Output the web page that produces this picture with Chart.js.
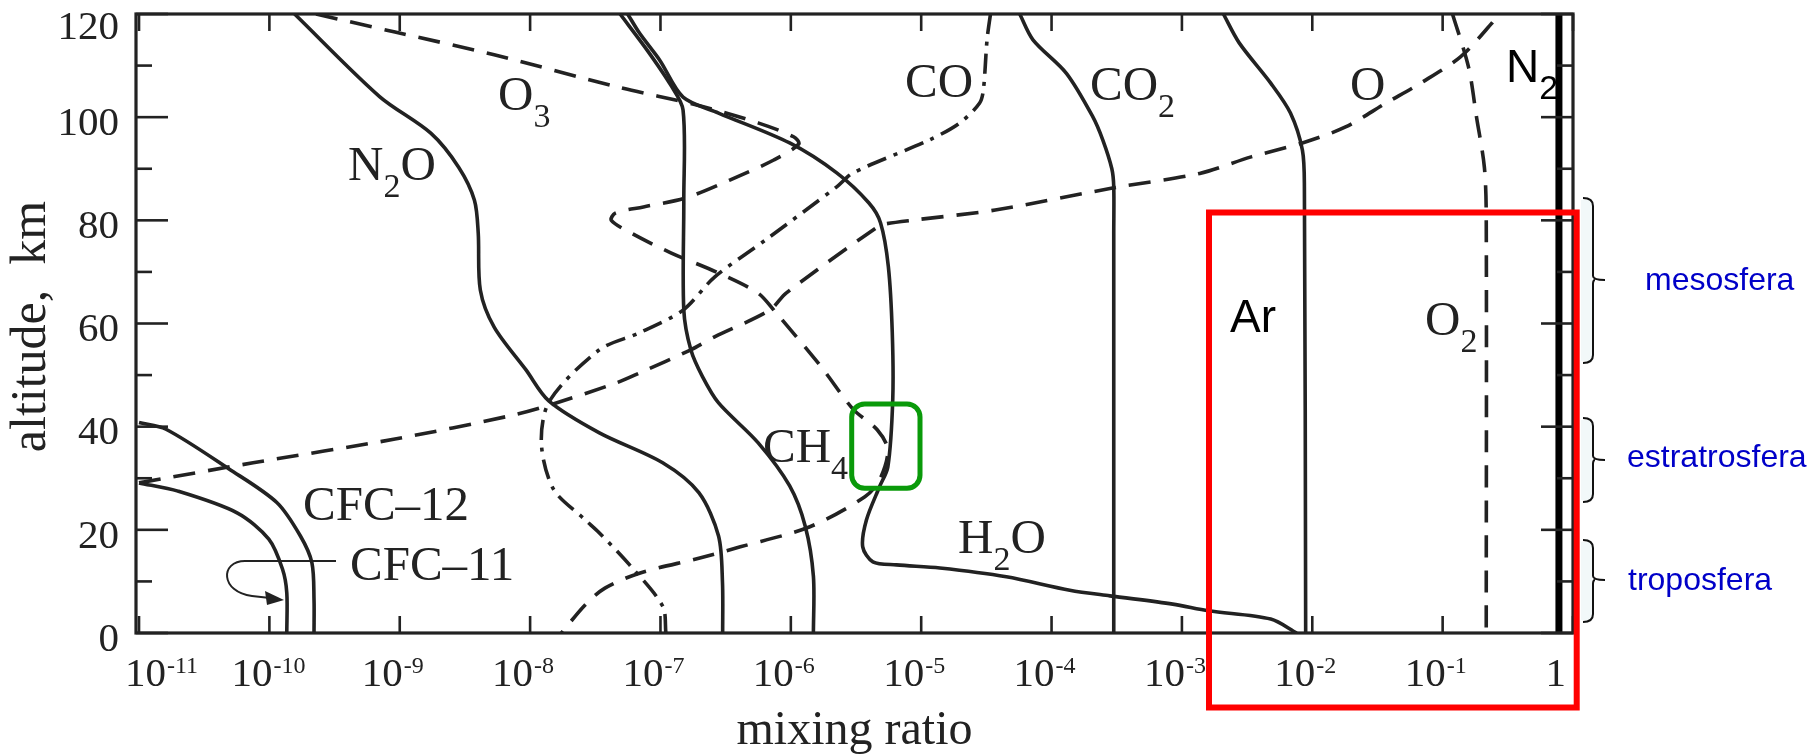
<!DOCTYPE html>
<html lang="it">
<head>
<meta charset="UTF-8">
<title>Mixing ratio profiles</title>
<script src="https://cdn.jsdelivr.net/npm/chart.js"></script>
<style>
  body { margin: 0; background: #fff; }
  canvas { display: block; }
</style>
</head>
<body>
<canvas id="grafico" width="1818" height="756"></canvas>
<script>
// altitude (km) / mixing ratio pairs
const n2oAlt = [120, 104, 96.9, 90.3, 83.9, 77.5, 66.5, 59.3, 51, 45, 38.8, 33, 27.2, 18.8, 9.8, 0];
const n2oMix = [1.56e-10, 7.0e-10, 1.73e-9, 2.83e-9, 3.74e-9, 4.0e-9, 4.15e-9, 5.3e-9, 9.3e-9, 1.39e-8, 3.4e-8, 1.04e-7, 1.97e-7, 2.79e-7, 2.99e-7, 3.0e-7];

const ch4Alt = [120, 113, 106.2, 101.4, 83.9, 62.6, 54.9, 49.7, 44.6, 36.9, 28.5, 20.7, 11, 0];
const ch4Mix = [4.9e-8, 7.9e-8, 1.2e-7, 1.49e-7, 1.51e-7, 1.51e-7, 1.71e-7, 2.1e-7, 2.79e-7, 5.6e-7, 9.8e-7, 1.29e-6, 1.49e-6, 1.49e-6];

const h2oAlt = [120, 116.3, 111, 103.9, 100.8, 95, 89.2, 83.4, 79.5, 71, 58.2, 45.2, 32.2, 28.4, 21.9, 16.7, 13.8, 13.2, 12.6, 10.9, 8.3, 7.2, 5.6, 4.3, 2.7, 0];
const h2oMix = [5.6e-8, 6.9e-8, 9.9e-8, 1.49e-7, 2.79e-7, 9.8e-7, 2.25e-6, 3.96e-6, 4.88e-6, 5.6e-6, 6.0e-6, 6.05e-6, 5.55e-6, 4.8e-6, 3.8e-6, 3.56e-6, 4.26e-6, 6.46e-6, 1.39e-5, 4.5e-5, 1.38e-4, 2.8e-4, 8.5e-4, 1.6e-3, 4.8e-3, 7.6e-3];

const co2Alt = [120, 115, 108.5, 100.1, 95.6, 90, 86.5, 77.5, 0];
const co2Mix = [5.7e-5, 7.2e-5, 1.3e-4, 2.07e-4, 2.47e-4, 2.9e-4, 3.0e-4, 3.0e-4, 3.0e-4];

const coAlt = [120, 115, 105.3, 102.7, 98.9, 95.6, 89.2, 86.5, 76.2, 69, 62.6, 58.2, 54.9, 45, 36.8, 27.9, 22.1, 19.4, 13.2, 5.2, 0];
const coMix = [3.4e-5, 3.2e-5, 3.0e-5, 2.8e-5, 1.98e-5, 1.16e-5, 3.0e-6, 2.25e-6, 6.4e-7, 2.6e-7, 1.49e-7, 6.9e-8, 3.4e-8, 1.41e-8, 1.22e-8, 1.51e-8, 2.6e-8, 3.4e-8, 5.8e-8, 1.04e-7, 1.1e-7];

const o3Alt = [120, 116.5, 112.1, 105.9, 102.2, 98.9, 96.2, 94.8, 91.7, 87.8, 84.3, 82.6, 81.4, 80, 77.5, 73.7, 69.8, 65.9, 62.6, 51.6, 43.4, 39.4, 35.5, 29.7, 26.4, 20.6, 16.7, 14.5, 11.6, 8.7, 5.4, 0];
const o3Mix = [2.28e-10, 9.2e-10, 5.3e-9, 4.6e-8, 2.0e-7, 5.6e-7, 1.05e-6, 1.15e-6, 7.4e-7, 3.4e-7, 1.54e-7, 7.4e-8, 4.5e-8, 4.2e-8, 6.0e-8, 1.2e-7, 2.79e-7, 5.6e-7, 7.4e-7, 1.71e-6, 3.0e-6, 4.6e-6, 5.55e-6, 4.8e-6, 3.7e-6, 1.4e-6, 4.1e-7, 1.97e-7, 6.9e-8, 3.75e-8, 2.63e-8, 1.74e-8];

const oAlt = [29.1, 33, 37.6, 42.1, 44.4, 48.5, 50.4, 54.9, 57.4, 62.6, 65.9, 78.7, 79.3, 80.1, 82, 86.3, 89.1, 92.3, 95, 98.1, 102.7, 106.6, 111.7, 118.3, 119.6];
const oMix = [1e-11, 7.5e-11, 9.2e-10, 7.0e-9, 1.5e-8, 4.6e-8, 6.9e-8, 1.71e-7, 2.6e-7, 6.9e-7, 9.2e-7, 4.6e-6, 5.3e-6, 9.1e-6, 3.7e-5, 3.0e-4, 1.37e-3, 3.4e-3, 8.4e-3, 0.018, 0.0366, 0.0678, 0.137, 0.24, 0.26];

const o2Alt = [120, 109.7, 100, 90.3, 80.7, 0];
const o2Mix = [0.119, 0.158, 0.182, 0.209, 0.216, 0.216];

const arAlt = [120, 114.4, 106.6, 100.8, 93.6, 86.5, 0];
const arMix = [2.08e-3, 2.75e-3, 4.8e-3, 6.8e-3, 8.4e-3, 8.7e-3, 8.9e-3];

const n2Alt = [0, 120];
const n2Mix = [0.78, 0.78];

const cfc12Alt = [40.8, 39.5, 31.8, 25.3, 18.8, 13.6, 6.4, 0];
const cfc12Mix = [1e-11, 1.61e-11, 4.9e-11, 1.14e-10, 1.73e-10, 2.12e-10, 2.2e-10, 2.2e-10];

const cfc11Alt = [29.1, 27.5, 23.3, 18.2, 12.4, 7.8, 0];
const cfc11Mix = [1e-11, 1.99e-11, 5.65e-11, 9.9e-11, 1.26e-10, 1.36e-10, 1.36e-10];

const xTickExp = [-11, -10, -9, -8, -7, -6, -5, -4, -3, -2, -1, 0];
const yTicks = [0, 10, 20, 30, 40, 50, 60, 70, 80, 90, 100, 110, 120];

const ink = '#222';
const serif = '"Liberation Serif", "Times New Roman", serif';
const sans = '"Liberation Sans", Arial, sans-serif';
const dashed = [22, 13];
const dashDot = [20, 8, 4, 8];

function punti(mix, alt) {
    return mix.map((v, i) => ({ x: v, y: alt[i] }));
}

function serie(mix, alt, dash, width, color) {
    return {
        data: punti(mix, alt),
        borderColor: color || ink,
        borderWidth: width || 3.6,
        borderDash: dash || [],
        showLine: true,
        pointRadius: 0,
        tension: 0.3,
        fill: false
    };
}

// chemical label: alternating main text / subscript
function chem(ctx, parts, x, y, family, big, small) {
    let cx = x;
    parts.forEach((p, i) => {
        const sub = i % 2 === 1;
        ctx.font = (sub ? small : big) + 'px ' + family;
        ctx.fillText(p, cx, sub ? y + 17 : y);
        cx += ctx.measureText(p).width;
    });
}

function seg(ctx, x1, y1, x2, y2) {
    ctx.beginPath();
    ctx.moveTo(x1, y1);
    ctx.lineTo(x2, y2);
    ctx.stroke();
}

function brace(ctx, x, top, bottom, mid) {
    ctx.fillStyle = '#f2f8f9';
    ctx.fillRect(x - 2, top + 2, 11, bottom - top - 4);
    ctx.beginPath();
    ctx.moveTo(x, top);
    ctx.quadraticCurveTo(x + 10, top, x + 10, top + 8);
    ctx.lineTo(x + 10, mid - 4);
    ctx.quadraticCurveTo(x + 10, mid, x + 22, mid);
    ctx.moveTo(x + 10, mid + 4);
    ctx.quadraticCurveTo(x + 10, mid, x + 12, mid);
    ctx.moveTo(x + 10, mid + 4);
    ctx.lineTo(x + 10, bottom - 8);
    ctx.quadraticCurveTo(x + 10, bottom, x, bottom);
    ctx.stroke();
}

const cornice = {
    id: 'cornice',
    afterDatasetsDraw(chart) {
        const { ctx, chartArea: a, scales: { x, y } } = chart;
        ctx.save();
        ctx.strokeStyle = ink;
        ctx.fillStyle = ink;
        ctx.lineWidth = 3.2;
        ctx.strokeRect(a.left, a.top, a.right - a.left, a.bottom - a.top);

        ctx.lineWidth = 2.6;
        yTicks.forEach(v => {
            const py = y.getPixelForValue(v);
            const len = v % 20 === 0 ? 32 : 16;
            seg(ctx, a.left, py, a.left + len, py);
            seg(ctx, a.right, py, a.right - len, py);
        });
        xTickExp.forEach(e => {
            const px = x.getPixelForValue(Math.pow(10, e));
            seg(ctx, px, a.bottom, px, a.bottom - 17);
            seg(ctx, px, a.top, px, a.top + 17);
        });

        // y tick labels
        ctx.font = '41px ' + serif;
        ctx.textAlign = 'right';
        ctx.textBaseline = 'middle';
        yTicks.filter(v => v % 20 === 0).forEach(v => {
            const py = y.getPixelForValue(v);
            ctx.fillText(String(v), a.left - 17, Math.max(py + 7, 28));
        });

        // x tick labels with superscript exponent
        ctx.textBaseline = 'alphabetic';
        xTickExp.forEach(e => {
            const px = x.getPixelForValue(Math.pow(10, e));
            ctx.font = '41px ' + serif;
            ctx.textAlign = 'right';
            if (e === 0) {
                ctx.fillText('1', px - 7, 686);
                return;
            }
            // the first label is pushed right so it clears the axis corner
            const right = e === -11 ? px + 27 : px + 3;
            ctx.fillText('10', right, 686);
            ctx.textAlign = 'left';
            ctx.font = '24px ' + serif;
            ctx.fillText(String(e), right + 1, 673);
        });

        // axis titles
        ctx.textAlign = 'center';
        ctx.font = '48px ' + serif;
        ctx.fillText('mixing ratio', (a.left + a.right) / 2, 744);
        ctx.save();
        ctx.translate(45, (a.top + a.bottom) / 2 + 3);
        ctx.rotate(-Math.PI / 2);
        ctx.font = '50px ' + serif;
        ctx.fillText('altitude,  km', 0, 0);
        ctx.restore();

        // species labels
        ctx.textAlign = 'left';
        chem(ctx, ['N', '2', 'O'], 348, 180, serif, 49, 34);
        chem(ctx, ['O', '3'], 498, 110, serif, 49, 34);
        chem(ctx, ['CO'], 905, 97, serif, 49, 34);
        chem(ctx, ['CO', '2'], 1090, 100, serif, 49, 34);
        chem(ctx, ['O'], 1350, 100, serif, 49, 34);
        chem(ctx, ['CH', '4'], 763, 462, serif, 49, 34);
        chem(ctx, ['H', '2', 'O'], 958, 553, serif, 49, 34);
        chem(ctx, ['CFC\u201312'], 303, 520, serif, 49, 34);
        chem(ctx, ['CFC\u201311'], 350, 580, serif, 49, 34);
        chem(ctx, ['O', '2'], 1425, 335, serif, 49, 34);

        // CFC-11 leader arrow
        ctx.lineWidth = 2;
        ctx.beginPath();
        ctx.moveTo(336, 561);
        ctx.lineTo(245, 561);
        ctx.bezierCurveTo(220, 561, 220, 592, 252, 596);
        ctx.lineTo(270, 598);
        ctx.stroke();
        ctx.beginPath();
        ctx.moveTo(284, 600);
        ctx.lineTo(265, 591);
        ctx.lineTo(267, 605);
        ctx.closePath();
        ctx.fill();
        ctx.restore();
    },
    afterDraw(chart) {
        const { ctx } = chart;
        ctx.save();
        ctx.fillStyle = '#000';
        ctx.textAlign = 'left';
        ctx.textBaseline = 'alphabetic';
        chem(ctx, ['Ar'], 1230, 332, sans, 46, 34);
        chem(ctx, ['N', '2'], 1506, 82, sans, 46, 34);

        ctx.strokeStyle = '#ff0000';
        ctx.lineWidth = 6;
        ctx.strokeRect(1209, 212.5, 367.7, 495);

        ctx.strokeStyle = '#0a9a0a';
        ctx.lineWidth = 5;
        ctx.beginPath();
        ctx.roundRect(851.7, 404, 68.3, 84.3, 13);
        ctx.stroke();

        ctx.strokeStyle = '#111';
        ctx.lineWidth = 2;
        brace(ctx, 1583, 198, 363, 280);
        brace(ctx, 1583, 418, 502, 460);
        brace(ctx, 1583, 540, 622, 580);

        ctx.fillStyle = '#0000c8';
        ctx.font = '32px ' + sans;
        ctx.fillText('mesosfera', 1645, 290);
        ctx.fillText('estratrosfera', 1627, 467);
        ctx.fillText('troposfera', 1628, 590);
        ctx.restore();
    }
};

new Chart(document.getElementById('grafico'), {
    type: 'scatter',
    data: {
        datasets: [
            serie(n2oMix, n2oAlt),
            serie(ch4Mix, ch4Alt),
            serie(h2oMix, h2oAlt),
            serie(co2Mix, co2Alt),
            serie(coMix, coAlt, dashDot),
            serie(o3Mix, o3Alt, dashed),
            serie(oMix, oAlt, dashed),
            serie(o2Mix, o2Alt, dashed),
            serie(arMix, arAlt),
            serie(cfc12Mix, cfc12Alt),
            serie(cfc11Mix, cfc11Alt),
            serie(n2Mix, n2Alt, [], 7, '#000')
        ]
    },
    options: {
        responsive: false,
        animation: false,
        devicePixelRatio: 1,
        events: [],
        layout: { padding: { top: 14, right: 245, left: 0, bottom: 0 } },
        plugins: { legend: { display: false }, tooltip: { enabled: false } },
        scales: {
            x: {
                type: 'logarithmic',
                min: 9.48e-12,
                max: 1,
                ticks: { display: false },
                grid: { display: false },
                border: { display: false },
                afterFit: s => { s.height = 123; }
            },
            y: {
                min: 0,
                max: 120,
                ticks: { display: false },
                grid: { display: false },
                border: { display: false },
                afterFit: s => { s.width = 136; }
            }
        }
    },
    plugins: [cornice]
});
</script>
</body>
</html>
